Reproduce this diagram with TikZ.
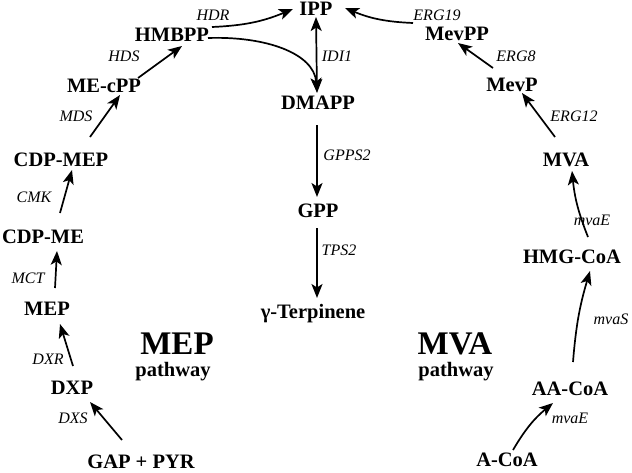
\documentclass[tikz,border=0pt]{standalone}
\usepackage{fontspec}
\setmainfont{Liberation Serif}[BoldFont={Liberation Serif Bold}, ItalicFont={Liberation Serif Italic}, BoldItalicFont={Liberation Serif Bold Italic}]
\usetikzlibrary{arrows.meta,calc}
\begin{document}
\begin{tikzpicture}[x=1pt,y=-1pt,
 cmp/.style={font=\fontsize{20.5}{22}\selectfont\bfseries, inner sep=0pt, text height=13.5pt, text depth=0pt},
 enz/.style={font=\fontsize{16}{18}\selectfont\itshape, inner sep=0pt, text height=10.5pt, text depth=0pt},
 big/.style={font=\fontsize{33}{35}\selectfont\bfseries, inner sep=0pt, text height=22pt, text depth=0pt},
 tip/.tip={Stealth[length=14pt,width=11pt,inset=3.5pt]},
 arr/.style={line width=1.7pt, -tip},
 arrb/.style={line width=1.7pt, tip-tip},
]
\useasboundingbox (0,0) rectangle (632,472);
% compounds
\node[cmp] (ipp) at (316,9) {IPP};
\node[cmp] (hmbpp) at (172,35) {HMBPP};
\node[cmp] (mecpp) at (104,86) {ME-cPP};
\node[cmp] (cdpmep) at (61,160) {CDP-MEP};
\node[cmp] (cdpme) at (43,237) {CDP-ME};
\node[cmp] (mep) at (47,309) {MEP};
\node[cmp] (dxp) at (72,388) {DXP};
\node[cmp] (gap) at (141,462) {GAP + PYR};
\node[cmp] (dmapp) at (318,103) {DMAPP};
\node[cmp] (gpp) at (318,211) {GPP};
\node[cmp] (gter) at (313,312) {γ-Terpinene};
\node[cmp] (mevpp) at (457,34) {MevPP};
\node[cmp] (mevp) at (512,85) {MevP};
\node[cmp] (mva) at (566,160) {MVA};
\node[cmp] (hmg) at (572,257) {HMG-CoA};
\node[cmp] (aacoa) at (570,389) {AA-CoA};
\node[cmp] (acoa) at (507,460) {A-CoA};
% pathway titles
\node[big] (mepbig) at (177,343) {MEP};
\node[cmp] (mepway) at (173,370) {pathway};
\node[big] (mvabig) at (455,343) {MVA};
\node[cmp] (mvaway) at (456,370) {pathway};
% enzymes
\node[enz] (dxs) at (73,418) {DXS};
\node[enz] (dxr) at (48,359) {DXR};
\node[enz] (mct) at (28,278) {MCT};
\node[enz] (cmk) at (34,197) {CMK};
\node[enz] (mds) at (76,116) {MDS};
\node[enz] (hds) at (124,56) {HDS};
\node[enz] (hdr) at (213,15) {HDR};
\node[enz] (idi) at (337,56) {IDI1};
\node[enz] (gpps) at (347,155) {GPPS2};
\node[enz] (tps) at (339,250) {TPS2};
\node[enz] (erg19) at (437,15) {ERG19};
\node[enz] (erg8) at (516,56) {ERG8};
\node[enz] (erg12) at (574,116) {ERG12};
\node[enz] (mvae1) at (592,220) {mvaE};
\node[enz] (mvas) at (611,319) {mvaS};
\node[enz] (mvae2) at (570,418) {mvaE};
% MEP arrows
\draw[arr] ([shift={(-19,-22)}]gap.center) -- ([shift={(18,14)}]dxp.center);
\draw[arr] ([shift={(1,-22)}]dxp.center) -- ([shift={(13,15)}]mep.center);
\draw[arr] ([shift={(8,-21)}]mep.center) -- ([shift={(14,14)}]cdpme.center);
\draw[arr] ([shift={(17,-24)}]cdpme.center) -- ([shift={(11,10)}]cdpmep.center);
\draw[arr] ([shift={(29,-23)}]cdpmep.center) -- ([shift={(16,9)}]mecpp.center);
\draw[arr] ([shift={(34,-8)}]mecpp.center) -- ([shift={(10,11)}]hmbpp.center);
\draw[arr] ([shift={(40,-8)}]hmbpp.center) to[bend right=10] ([shift={(-23,0)}]ipp.center);
\draw[arr] ([shift={(36,3)}]hmbpp.center) .. controls ($(hmbpp.center)+(93,1)$) and ($(dmapp.center)+(-4,-50)$) .. ([shift={(-1,-11)}]dmapp.center);
% central arrows
\draw[arrb] ([shift={(0,8)}]ipp.center) -- ([shift={(-1,-10)}]dmapp.center);
\draw[arr] ([shift={(-1,22)}]dmapp.center) -- ([shift={(-1,-14)}]gpp.center);
\draw[arr] ([shift={(-1,17)}]gpp.center) -- ([shift={(4,-14)}]gter.center);
% MVA arrows
\draw[arr] ([shift={(6,-10)}]acoa.center) to[bend left=10] ([shift={(-17,14)}]aacoa.center);
\draw[arr] ([shift={(3,-27)}]aacoa.center) to[bend left=6] ([shift={(18,14)}]hmg.center);
\draw[arr] ([shift={(16,-20)}]hmg.center) to[bend left=8] ([shift={(6,11)}]mva.center);
\draw[arr] ([shift={(-11,-23)}]mva.center) -- ([shift={(10,8)}]mevp.center);
\draw[arr] ([shift={(-19,-17)}]mevp.center) -- ([shift={(1,9)}]mevpp.center);
\draw[arr] ([shift={(-44,-11)}]mevpp.center) to[bend left=10] ([shift={(29,-1)}]ipp.center);
\end{tikzpicture}
\end{document}
